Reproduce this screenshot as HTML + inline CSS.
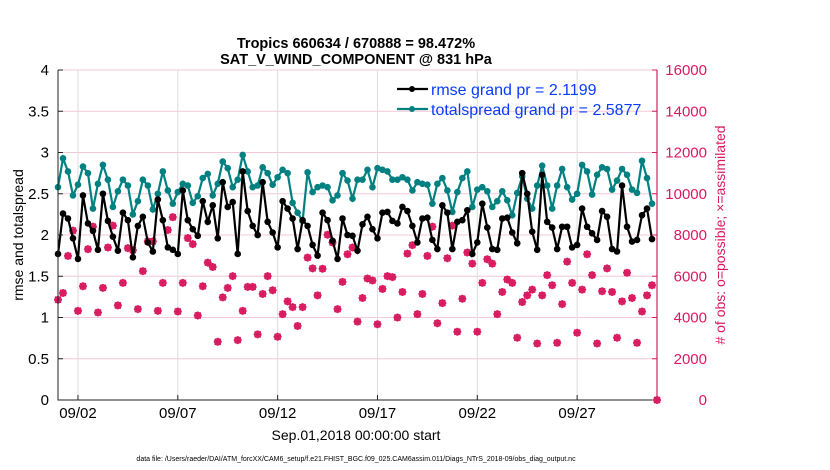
<!DOCTYPE html>
<html><head><meta charset="utf-8"><style>
html,body{margin:0;padding:0;background:#fff;}
svg{display:block;font-family:"Liberation Sans",Arial,sans-serif;}
</style></head><body>
<svg id="chart" width="830" height="470" viewBox="0 0 830 470" xmlns="http://www.w3.org/2000/svg">
<text x="356" y="48" font-size="14.5" font-weight="bold" text-anchor="middle">Tropics 660634 / 670888 = 98.472%</text>
<text x="356" y="64" font-size="14.5" font-weight="bold" text-anchor="middle">SAT_V_WIND_COMPONENT @ 831 hPa</text>
<g id="grid"></g>
<g id="marks"></g>
<g id="axes"></g>
<text transform="translate(23,235) rotate(-90)" font-size="14" text-anchor="middle">rmse and totalspread</text>
<text transform="translate(725,235) rotate(-90)" font-size="14" fill="#d81b60" text-anchor="middle"># of obs: o=possible; ×=assimilated</text>
<text x="356" y="440" font-size="14" text-anchor="middle">Sep.01,2018 00:00:00 start</text>
<text x="356" y="461" font-size="7" text-anchor="middle">data file: /Users/raeder/DAI/ATM_forcXX/CAM6_setup/f.e21.FHIST_BGC.f09_025.CAM6assim.011/Diags_NTrS_2018-09/obs_diag_output.nc</text>
<g>
<line x1="397" y1="89" x2="428" y2="89" stroke="#000" stroke-width="2.2"/><circle cx="412" cy="89" r="3" fill="#000"/>
<text x="431" y="95" font-size="16" fill="#0a3cff">rmse grand pr = 2.1199</text>
<line x1="397" y1="109" x2="428" y2="109" stroke="#008080" stroke-width="2.2"/><circle cx="412" cy="109" r="3" fill="#008080"/>
<text x="431" y="115" font-size="16" fill="#0a3cff">totalspread grand pr = 2.5877</text>
</g>
</svg>
<script>
const rmse=[1.77,2.26,2.20,1.96,1.71,2.48,2.14,2.05,1.82,2.50,2.17,1.98,1.81,2.27,2.18,1.73,2.11,2.22,1.91,1.80,2.43,2.18,1.85,1.82,1.77,2.54,2.18,2.07,1.99,2.41,2.16,2.36,1.96,2.64,2.34,2.40,1.77,2.77,2.29,2.11,2.00,
2.64,2.16,2.03,1.85,2.41,2.32,2.20,1.83,2.18,2.11,1.88,1.75,2.27,2.18,1.93,1.71,2.20,2.00,1.99,1.81,2.13,2.22,2.07,1.96,2.27,2.28,2.17,2.14,2.34,2.29,2.11,1.91,2.20,2.21,1.94,1.83,2.36,2.27,1.83,2.16,
2.18,2.30,1.77,1.91,2.38,2.09,1.83,1.82,2.20,2.21,2.03,1.90,2.75,2.50,2.04,1.82,2.73,2.16,2.09,1.83,2.10,2.10,1.85,1.88,2.32,2.10,2.02,1.94,2.29,2.22,1.83,1.80,2.60,2.10,1.92,1.94,2.24,2.32,1.95];
const spread=[2.58,2.93,2.77,2.48,2.61,2.83,2.75,2.32,2.62,2.85,2.67,2.34,2.53,2.67,2.60,2.25,2.41,2.67,2.60,2.31,2.50,2.77,2.54,2.38,2.52,2.62,2.60,2.39,2.47,2.69,2.74,2.48,2.62,2.89,2.81,2.58,2.67,2.97,2.77,2.58,2.60,
2.82,2.75,2.61,2.70,2.79,2.75,2.39,2.27,2.17,2.76,2.52,2.58,2.60,2.58,2.42,2.48,2.75,2.66,2.44,2.67,2.67,2.79,2.58,2.81,2.79,2.77,2.67,2.67,2.70,2.67,2.54,2.64,2.62,2.61,2.38,2.62,2.69,2.54,2.28,2.52,
2.69,2.77,2.34,2.55,2.58,2.53,2.34,2.41,2.53,2.42,2.24,2.51,2.71,2.44,2.32,2.60,2.84,2.60,2.32,2.60,2.80,2.58,2.43,2.50,2.85,2.77,2.49,2.73,2.82,2.80,2.55,2.66,2.80,2.73,2.55,2.51,2.90,2.69,2.38];
const obsCount=[4863,5190,6986,8211,4324,5517,7313,8407,4242,5435,7394,8456,4586,5680,7362,7264,4406,6251,7688,7688,4324,5680,8244,8864,4292,5680,7852,7558,4096,5517,6660,6447,2822,4977,5435,6006,2904,4324,5484,5484,3181,
5141,6006,5321,3067,4161,4782,4504,3590,4504,6905,6382,5075,6366,8015,7639,4406,5729,7068,7394,3802,4945,5892,5794,3671,5386,6006,5957,3998,5239,7100,7509,4161,5141,6986,8407,3720,4700,6872,8456,3312,
4912,7150,6611,3312,5680,6823,6611,4161,5239,5843,5680,3018,4749,5075,5353,2740,5075,6055,5565,2773,4651,6708,5680,3263,5353,7068,6055,2740,5272,6382,5239,3018,4782,6170,4945,2773,4292,5075,5565,0];
const leftTicks=[0,0.5,1,1.5,2,2.5,3,3.5,4];
const leftTickLabels=["0","0.5","1","1.5","2","2.5","3","3.5","4"];
const rightTicks=[0,2000,4000,6000,8000,10000,12000,14000,16000];
const xTickDays=[1,6,11,16,21,26];
const xTickLabels=["09/02","09/07","09/12","09/17","09/22","09/27"];

const NS="http://www.w3.org/2000/svg";
const L=58,R=657,T=70,B=400,PINK="#d81b60";
const xDay=d=>L+(R-L)*d/30;
const yL=v=>B-(B-T)*v/4;
const yR=v=>B-(B-T)*v/16000;
function mk(tag,parent,attrs){const e=document.createElementNS(NS,tag);for(const k in attrs)e.setAttribute(k,attrs[k]);parent.appendChild(e);return e;}
const grid=document.getElementById('grid'),marks=document.getElementById('marks'),axes=document.getElementById('axes');
rightTicks.forEach(v=>{const g=mk('line',grid,{x1:L,x2:R,y1:yR(v),y2:yR(v),stroke:'#f3c9d8','stroke-width':1});

});
xTickDays.forEach(d=>{const g=mk('line',grid,{x1:xDay(d),x2:xDay(d),y1:T,y2:B,stroke:'#dddddd','stroke-width':1});

});
obsCount.forEach((c,i)=>{const x=xDay(i/4),y=yR(c);
const m=mk('g',marks,{});


mk('circle',m,{cx:x,cy:y,r:3,fill:'none',stroke:PINK,'stroke-width':1.5});
mk('path',m,{d:`M${x-4} ${y}H${x+4}M${x} ${y-4}V${y+4}M${x-3} ${y-3}L${x+3} ${y+3}M${x-3} ${y+3}L${x+3} ${y-3}`,stroke:PINK,'stroke-width':1.5});});
function series(vals,color,name){
const p=mk('polyline',marks,{points:vals.map((v,i)=>xDay(i/4)+','+yL(v)).join(' '),fill:'none',stroke:color,'stroke-width':2.2});


vals.forEach((v,i)=>{const c=mk('circle',marks,{cx:xDay(i/4),cy:yL(v),r:3.3,fill:color});

});}
series(spread,'#008080','totalspread');
series(rmse,'#000000','rmse');
const la=mk('path',axes,{d:`M${L} ${T}V${B}H${R}`,stroke:'#222',fill:'none','stroke-width':1});


const ra=mk('line',axes,{x1:R,x2:R,y1:T,y2:B,stroke:PINK,'stroke-width':1.2});


leftTicks.forEach((v,i)=>{mk('line',axes,{x1:L,x2:L+5,y1:yL(v),y2:yL(v),stroke:'#222'});
const t=mk('text',axes,{x:L-9,y:yL(v)+5,'font-size':15,'text-anchor':'end'});t.textContent=leftTickLabels[i];

});
rightTicks.forEach(v=>{mk('line',axes,{x1:R-5,x2:R,y1:yR(v),y2:yR(v),stroke:PINK});
const t=mk('text',axes,{x:R+50,y:yR(v)+5,'font-size':15,fill:PINK,'text-anchor':'end'});t.textContent=String(v);

});
xTickDays.forEach((d,i)=>{mk('line',axes,{x1:xDay(d),x2:xDay(d),y1:B,y2:B-5,stroke:'#222'});
const t=mk('text',axes,{x:xDay(d),y:418,'font-size':15,'text-anchor':'middle'});t.textContent=xTickLabels[i];

});
</script>
</body></html>
